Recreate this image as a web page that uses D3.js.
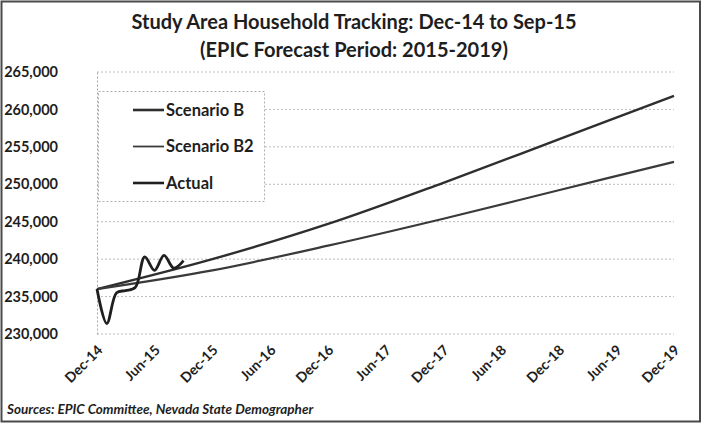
<!DOCTYPE html>
<html>
<head>
<meta charset="utf-8">
<script src="https://cdn.jsdelivr.net/npm/d3@7"></script>
<style>
  html, body { margin: 0; padding: 0; background: #fff; }
  svg { display: block; }
  text { font-family: Lato, "Open Sans", sans-serif; fill: #1e1e1e; }
</style>
</head>
<body>
<svg id="chart" width="702" height="425"></svg>
<script>
// Household counts, study area
const forecastDates = ["2014-12", "2015-12", "2016-12", "2017-12", "2018-12", "2019-12"];
const scenarioB  = [236000, 240000, 244700, 250200, 256000, 261800];
const scenarioB2 = [236000, 238500, 241800, 245400, 249200, 253000];

const actualDates = ["2014-12", "2015-01", "2015-02", "2015-03", "2015-04",
                     "2015-05", "2015-06", "2015-07", "2015-08", "2015-09"];
const actualValues = [236000, 231400, 235500, 235800, 236200,
                      240300, 238500, 240500, 238800, 239800];

const yTicks = [230000, 235000, 240000, 245000, 250000, 255000, 260000, 265000];
const xTickDates = ["2014-12", "2015-06", "2015-12", "2016-06", "2016-12", "2017-06",
                    "2017-12", "2018-06", "2018-12", "2019-06", "2019-12"];

const titleLines = ["Study Area Household Tracking: Dec-14 to Sep-15",
                    "(EPIC Forecast Period: 2015-2019)"];
const sourceNote = "Sources: EPIC Committee, Nevada State Demographer";

const parse = d3.timeParse("%Y-%m");
const fmtDate = d3.timeFormat("%b-%y");
const fmtNum = d3.format(",");

const svg = d3.select("#chart");
const W = 702, H = 425;
const m = { left: 97, right: 674, top: 72, bottom: 334 };

// outer frame
svg.append("rect")
  .attr("x", 1.5).attr("y", 1.5).attr("width", W - 3.5).attr("height", H - 5)
  .attr("fill", "#fff").attr("stroke", "#4a4a4a").attr("stroke-width", 2);

const x = d3.scaleTime()
  .domain([parse("2014-12"), parse("2019-12")])
  .range([m.left, m.right]);
const y = d3.scaleLinear()
  .domain([230000, 265000])
  .range([m.bottom, m.top]);

// title
svg.append("g").selectAll("text")
  .data(titleLines).join("text")
  .attr("x", 354).attr("y", (d, i) => 29 + i * 28)
  .attr("text-anchor", "middle")
  .attr("font-size", 20).attr("font-weight", 700)
  .text(d => d);

// horizontal gridlines
svg.append("g").selectAll("line")
  .data(yTicks).join("line")
  .attr("x1", m.left).attr("x2", m.right)
  .attr("y1", d => y(d)).attr("y2", d => y(d))
  .attr("stroke", "#bcbcbc").attr("stroke-width", 1)
  .attr("stroke-dasharray", "2,2");

// y axis
const yAxis = svg.append("g")
  .attr("transform", `translate(${m.left},0)`)
  .call(d3.axisLeft(y).tickValues(yTicks).tickFormat(fmtNum).tickSize(0).tickPadding(39));
yAxis.select(".domain").attr("stroke", "#a8a8a8").attr("stroke-dasharray", "2,2");
yAxis.selectAll("text")
  .attr("font-family", "Lato, sans-serif")
  .attr("font-size", 14.5).attr("font-weight", 700).attr("fill", "#1e1e1e");

// x axis with rotated date labels
const xAxis = svg.append("g")
  .attr("transform", `translate(0,${m.bottom})`)
  .call(d3.axisBottom(x).tickValues(xTickDates.map(parse)).tickFormat(fmtDate).tickSize(0));
xAxis.select(".domain").remove();
xAxis.selectAll("text")
  .attr("font-family", "Lato, sans-serif")
  .attr("font-size", 14).attr("font-weight", 700).attr("fill", "#1e1e1e")
  .attr("text-anchor", "end")
  .attr("dy", 0).attr("y", 0)
  .attr("transform", "translate(6,17) rotate(-45)");

// series
const line = d3.line()
  .x(d => x(d.date)).y(d => y(d.value))
  .curve(d3.curveCatmullRom.alpha(0.5));

const toPoints = (dates, vals) => dates.map((d, i) => ({ date: parse(d), value: vals[i] }));

const series = [
  { name: "Scenario B",  pts: toPoints(forecastDates, scenarioB),  color: "#2e2e2e", width: 2.4 },
  { name: "Scenario B2", pts: toPoints(forecastDates, scenarioB2), color: "#3a3a3a", width: 2.2 },
  { name: "Actual",      pts: toPoints(actualDates, actualValues), color: "#1f1f1f", width: 2.8 }
];

svg.append("g").selectAll("path")
  .data(series).join("path")
  .attr("d", d => line(d.pts))
  .attr("fill", "none")
  .attr("stroke", d => d.color)
  .attr("stroke-width", d => d.width)
  .attr("stroke-linejoin", "round");

// legend
const lg = svg.append("g");
lg.append("rect")
  .attr("x", 98.5).attr("y", 91.5).attr("width", 166).attr("height", 110)
  .attr("fill", "#fff").attr("stroke", "#b0b0b0").attr("stroke-dasharray", "2,2");
const items = lg.selectAll("g.item").data(series).join("g")
  .attr("class", "item")
  .attr("transform", (d, i) => `translate(133,${110 + i * 36.5})`);
items.append("line")
  .attr("x1", 0).attr("x2", 31)
  .attr("stroke", d => d.color)
  .attr("stroke-width", (d, i) => i === 1 ? 1.8 : 2.6);
items.append("text")
  .attr("x", 33).attr("dy", "0.36em")
  .attr("font-size", 16.5).attr("font-weight", 700)
  .text(d => d.name);

// source note
svg.append("text")
  .attr("x", 7).attr("y", 414)
  .attr("font-size", 13.5).attr("font-style", "italic").attr("font-weight", 700)
  .text(sourceNote);
</script>
</body>
</html>
